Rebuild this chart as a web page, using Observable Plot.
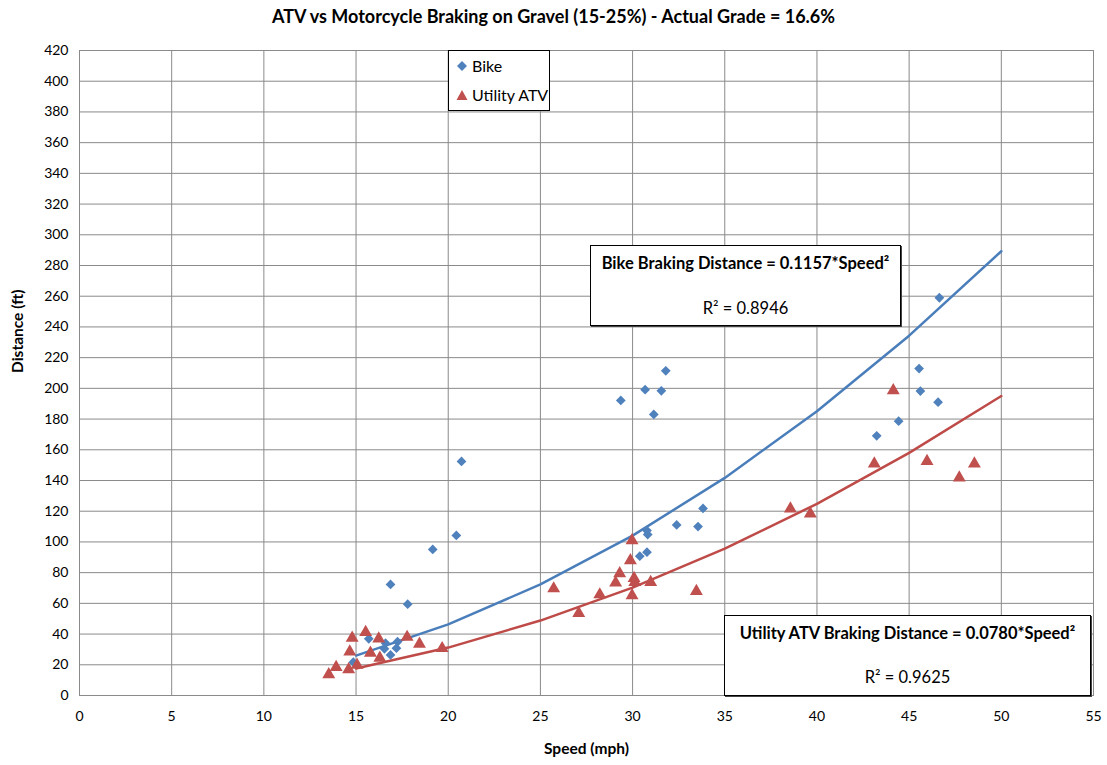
<!DOCTYPE html>
<html>
<head>
<meta charset="utf-8">
<script src="https://cdn.jsdelivr.net/npm/d3@7"></script>
<script src="https://cdn.jsdelivr.net/npm/@observablehq/plot@0.6"></script>
<style>
  html, body { margin: 0; padding: 0; background: #fff; }
  #wrap { position: relative; width: 1107px; height: 765px; font-family: Lato, "Open Sans", sans-serif; color: #000; }
  .ov { position: absolute; box-sizing: border-box; }
  #title { left: 0; top: 5px; width: 1107px; text-align: center; font-weight: bold; font-size: 18px; }
  .box { background: #fff; border: 1px solid #000; box-shadow: 1px 1px 0 #444; text-align: center; }
  .eq { font-weight: bold; font-size: 16.5px; }
  .r2 { font-size: 16.5px; }
  #legend { left: 448px; top: 50px; width: 102px; height: 61px; border: 1px solid #000; background: #fff; font-size: 16px; }
  .li { position: absolute; left: 7px; display: flex; align-items: center; }
  .li svg { margin-right: 4px; }
</style>
</head>
<body>
<div id="wrap"></div>
<script>
// ---- data ----
const bikeSpeed = [14.85, 15.69, 16.6, 16.54, 17.25, 17.19, 16.87, 16.87, 17.8, 19.16, 20.44, 20.72,
  29.36, 30.68, 31.56, 31.8, 31.15, 30.39, 30.78, 30.78, 30.82, 32.39, 33.55, 33.82,
  43.24, 44.43, 45.54, 45.61, 46.57, 46.64];
const bikeDist = [21.7, 36.9, 34.1, 30.4, 35.0, 30.8, 26.4, 72.3, 59.5, 95.1, 104.2, 152.4,
  192.1, 199.1, 198.4, 211.4, 183.0, 90.7, 93.3, 107.4, 104.8, 111.1, 110.0, 121.8,
  169.1, 178.6, 212.9, 198.2, 191.0, 259.0];

const atvSpeed = [13.52, 13.92, 14.6, 14.66, 14.79, 15.06, 15.52, 15.78, 16.23, 16.29, 17.77, 18.44, 19.67,
  25.72, 27.08, 28.22, 29.08, 29.3, 29.88, 29.97, 29.97, 30.08, 30.12, 30.98, 33.46,
  38.56, 39.64, 43.11, 44.14, 45.97, 47.72, 48.54];
const atvDist = [13.7, 18.4, 16.9, 28.5, 37.5, 19.8, 41.2, 27.7, 36.9, 24.4, 38.0, 33.6, 30.7,
  69.6, 53.5, 65.7, 73.4, 79.5, 87.9, 100.9, 65.1, 76.3, 73.8, 73.8, 67.9,
  121.6, 118.4, 150.9, 198.6, 152.6, 141.8, 150.9];

// trend lines (Distance = k*Speed^2), as drawn in 5 mph steps
const fitSpeed = [15, 20, 25, 30, 35, 40, 45, 50];
const bikeFit = [26.0, 46.3, 72.3, 104.1, 141.7, 185.1, 234.3, 289.3];
const atvFit = [17.6, 31.2, 48.8, 70.2, 95.6, 124.8, 158.0, 195.0];

const xTicks = [0, 5, 10, 15, 20, 25, 30, 35, 40, 45, 50, 55];
const yTicks = [0, 20, 40, 60, 80, 100, 120, 140, 160, 180, 200, 220, 240, 260, 280, 300, 320, 340, 360, 380, 400, 420];

const seriesNames = ["Bike", "Utility ATV"];
const titleText = "ATV vs Motorcycle Braking on Gravel (15-25%) - Actual Grade = 16.6%";
const xLabel = "Speed (mph)";
const yLabel = "Distance (ft)";
const bikeEq = "Bike Braking Distance = 0.1157*Speed²";
const bikeR2 = "R² = 0.8946";
const atvEq = "Utility ATV Braking Distance = 0.0780*Speed²";
const atvR2 = "R² = 0.9625";

const BLUE = "#4F81BD", RED = "#C0504D", GRID = "#8a8a8a";

const bike = bikeSpeed.map((s, i) => ({s, d: bikeDist[i]}));
const atv = atvSpeed.map((s, i) => ({s, d: atvDist[i]}));
const bikeLine = fitSpeed.map((s, i) => ({s, d: bikeFit[i]}));
const atvLine = fitSpeed.map((s, i) => ({s, d: atvFit[i]}));

const chart = Plot.plot({
  width: 1107,
  height: 765,
  marginLeft: 79,
  marginRight: 14,
  marginTop: 50,
  marginBottom: 70,
  style: {fontFamily: "Lato, 'Open Sans', sans-serif", fontSize: "14px", color: "#000", background: "#fff"},
  x: {domain: [0, 55], ticks: xTicks, label: null},
  y: {domain: [0, 420], ticks: yTicks, label: null},
  marks: [
    Plot.gridX(xTicks, {stroke: GRID, strokeOpacity: 1}),
    Plot.gridY(yTicks, {stroke: GRID, strokeOpacity: 1}),
    Plot.frame({stroke: GRID, strokeOpacity: 1}),
    Plot.axisX(xTicks, {tickSize: 0, tickPadding: 16, fontSize: 14}),
    Plot.axisY(yTicks, {tickSize: 0, tickPadding: 11, fontSize: 14}),
    Plot.line(atvLine, {x: "s", y: "d", stroke: "#BE4B48", strokeWidth: 2.5}),
    Plot.line(bikeLine, {x: "s", y: "d", stroke: "#4A7EBB", strokeWidth: 2.5}),
    Plot.dot(bike, {x: "s", y: "d", symbol: "diamond2", r: 4.4, fill: BLUE, stroke: "none"}),
    Plot.dot(atv, {x: "s", y: "d", symbol: "triangle", r: 4.8, fill: RED, stroke: "none"}),
    Plot.text([xLabel], {frameAnchor: "bottom", dy: 58, fontWeight: "bold", fontSize: 15.5}),
    Plot.text([yLabel], {frameAnchor: "left", dx: -61, rotate: -90, fontWeight: "bold", fontSize: 15.5})
  ]
});

const wrap = document.getElementById("wrap");
wrap.appendChild(chart);

function addDiv(cls, id, style, html) {
  const d = document.createElement("div");
  d.className = "ov " + cls;
  if (id) d.id = id;
  Object.assign(d.style, style);
  d.innerHTML = html;
  wrap.appendChild(d);
  return d;
}
addDiv("", "title", {}, titleText);

// legend
const sym = (kind, color) => {
  const p = kind === "diamond" ? "M6 1 L11 6 L6 11 L1 6 Z" : "M6 1 L11.5 11 L0.5 11 Z";
  return `<svg width="12" height="12" viewBox="0 0 12 12"><path d="${p}" fill="${color}"/></svg>`;
};
addDiv("", "legend", {},
  `<div class="li" style="top:5px">${sym("diamond", BLUE)}<span>${seriesNames[0]}</span></div>` +
  `<div class="li" style="top:34px">${sym("triangle", RED)}<span>${seriesNames[1]}</span></div>`);

// equation boxes
addDiv("box", null, {left: "590px", top: "245px", width: "311px", height: "81px"},
  `<div class="eq" style="margin-top:7px">${bikeEq}</div><div class="r2" style="margin-top:25px">${bikeR2}</div>`);
addDiv("box", null, {left: "724px", top: "615px", width: "367px", height: "81px"},
  `<div class="eq" style="margin-top:7px">${atvEq}</div><div class="r2" style="margin-top:24px">${atvR2}</div>`);
</script>
</body>
</html>
